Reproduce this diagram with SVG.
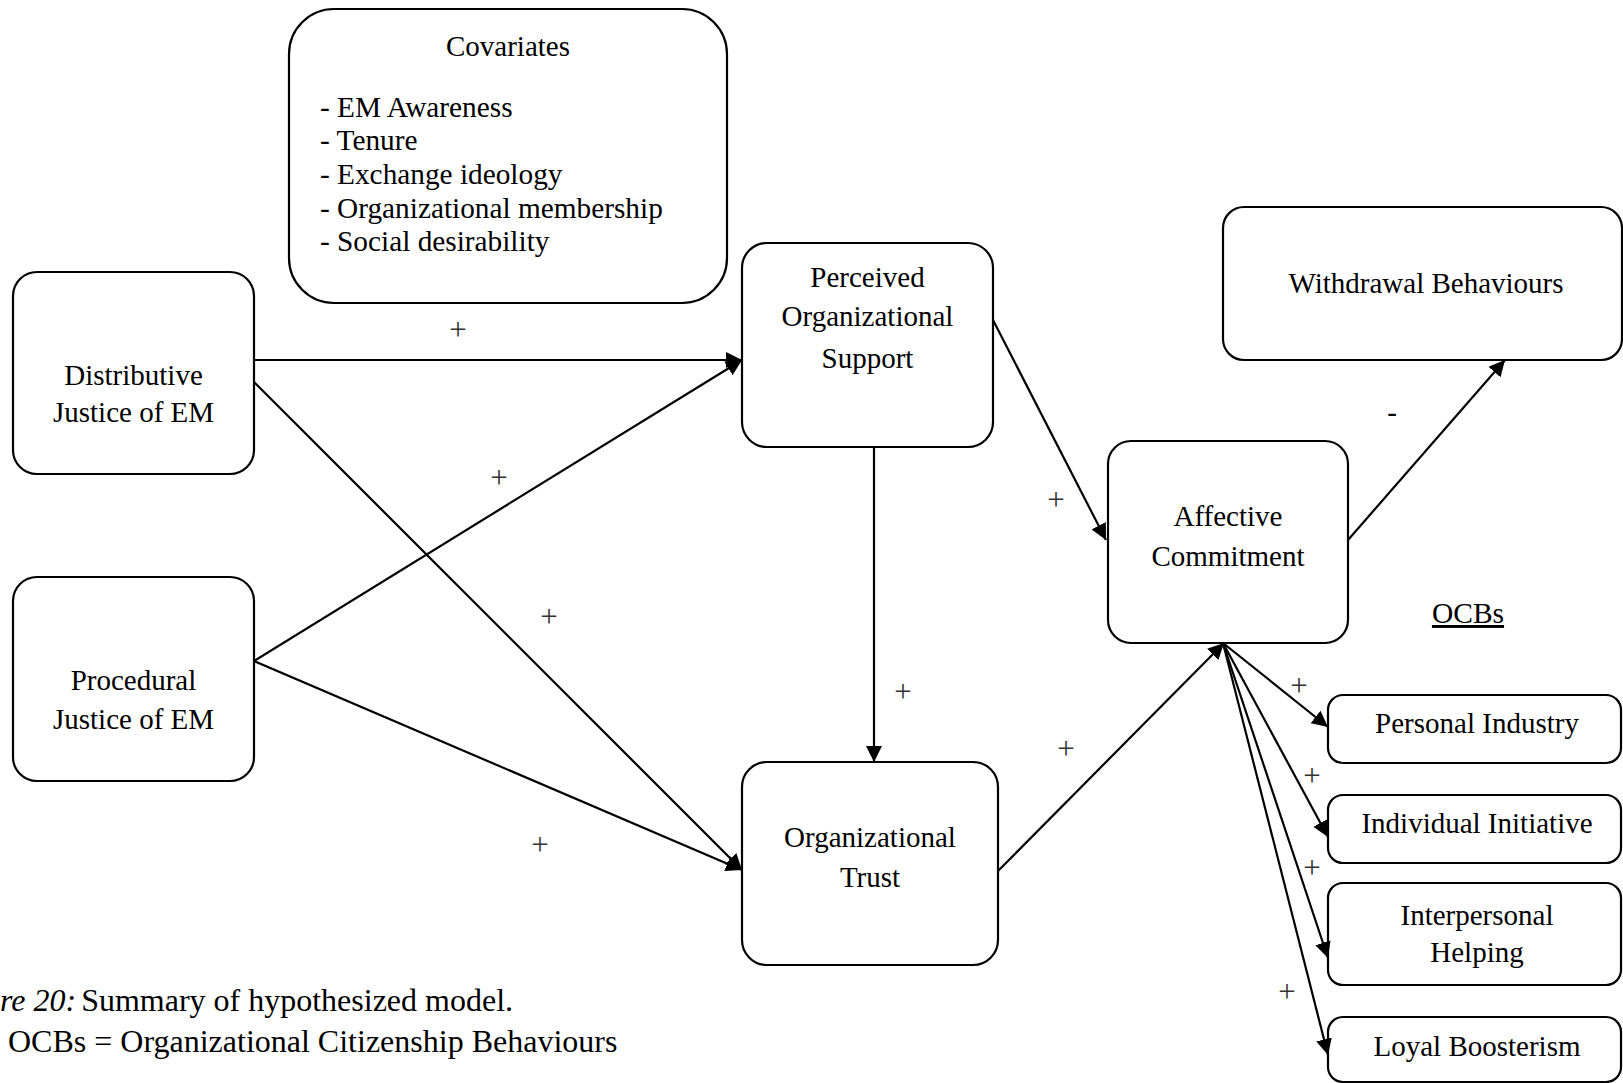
<svg xmlns="http://www.w3.org/2000/svg" width="1623" height="1083" viewBox="0 0 1623 1083">
<style>
.box{fill:#fff;stroke:#000;stroke-width:2.2}
.t{font-family:"Liberation Serif","Times New Roman",serif;font-size:29px;fill:#000}
.c{text-anchor:middle}
.pl{font-family:"Liberation Serif","Times New Roman",serif;font-size:31px;fill:#333;text-anchor:middle}
.edge{stroke:#000;stroke-width:2.2;fill:none;marker-end:url(#ah)}
</style>
<defs>
<marker id="ah" markerUnits="userSpaceOnUse" markerWidth="17" markerHeight="16" refX="16" refY="8" orient="auto">
<path d="M0,0 L16,8 L0,16 z" fill="#000"/>
</marker>
</defs>
<rect width="1623" height="1083" fill="#fff"/>

<g id="covariates">
<rect class="box" x="289" y="9" width="438" height="294" rx="45"/>
<text class="t c" x="508" y="56">Covariates</text>
<text class="t" x="320" y="117" style="font-size:29.3px">- EM Awareness</text>
<text class="t" x="320" y="150" style="font-size:29.3px">- Tenure</text>
<text class="t" x="320" y="184" style="font-size:29.3px">- Exchange ideology</text>
<text class="t" x="320" y="218" style="font-size:29.3px">- Organizational membership</text>
<text class="t" x="320" y="251" style="font-size:29.3px">- Social desirability</text>
</g>

<g id="distributive">
<rect class="box" x="13" y="272" width="241" height="202" rx="24"/>
<text class="t c" x="133.5" y="385">Distributive</text>
<text class="t c" x="133.5" y="422">Justice of EM</text>
</g>

<g id="procedural">
<rect class="box" x="13" y="577" width="241" height="204" rx="24"/>
<text class="t c" x="133.5" y="690">Procedural</text>
<text class="t c" x="133.5" y="729">Justice of EM</text>
</g>

<g id="pos">
<rect class="box" x="742" y="243" width="251" height="204" rx="25"/>
<text class="t c" x="867.5" y="287">Perceived</text>
<text class="t c" x="867.5" y="326">Organizational</text>
<text class="t c" x="867.5" y="368">Support</text>
</g>

<g id="trust">
<rect class="box" x="742" y="762" width="256" height="203" rx="25"/>
<text class="t c" x="870" y="847">Organizational</text>
<text class="t c" x="870" y="887">Trust</text>
</g>

<g id="affective">
<rect class="box" x="1108" y="441" width="240" height="202" rx="23"/>
<text class="t c" x="1228" y="526">Affective</text>
<text class="t c" x="1228" y="566">Commitment</text>
</g>

<g id="withdrawal">
<rect class="box" x="1223" y="207" width="399" height="153" rx="21"/>
<text class="t c" x="1426" y="293">Withdrawal Behaviours</text>
</g>

<g id="ocbs-label">
<text class="t c" x="1468" y="623" text-decoration="underline" style="font-size:29.5px">OCBs</text>
</g>

<g id="personal-industry">
<rect class="box" x="1328" y="695" width="293" height="68" rx="15"/>
<text class="t c" x="1477" y="733">Personal Industry</text>
</g>

<g id="individual-initiative">
<rect class="box" x="1328" y="795" width="293" height="68" rx="15"/>
<text class="t c" x="1477" y="833">Individual Initiative</text>
</g>

<g id="interpersonal-helping">
<rect class="box" x="1328" y="883" width="293" height="102" rx="15"/>
<text class="t c" x="1477" y="925">Interpersonal</text>
<text class="t c" x="1477" y="962">Helping</text>
</g>

<g id="loyal-boosterism">
<rect class="box" x="1328" y="1017" width="293" height="65" rx="15"/>
<text class="t c" x="1477" y="1056">Loyal Boosterism</text>
</g>

<g id="connectors">
<line class="edge" x1="254" y1="360" x2="742" y2="360"/>
<line class="edge" x1="254" y1="382" x2="742" y2="870"/>
<line class="edge" x1="254" y1="661" x2="742" y2="360"/>
<line class="edge" x1="254" y1="661" x2="742" y2="870"/>
<line class="edge" x1="874" y1="447" x2="874" y2="762"/>
<line class="edge" x1="993" y1="320" x2="1106" y2="540"/>
<line class="edge" x1="998" y1="871" x2="1224" y2="643"/>
<line class="edge" x1="1348" y1="540" x2="1505" y2="360"/>
<line class="edge" x1="1223" y1="643" x2="1328" y2="727"/>
<line class="edge" x1="1223" y1="643" x2="1328" y2="837"/>
<line class="edge" x1="1223" y1="643" x2="1328" y2="958"/>
<line class="edge" x1="1223" y1="643" x2="1328" y2="1055"/>
</g>

<g id="labels">
<text class="pl" x="458" y="340">+</text>
<text class="pl" x="499" y="488">+</text>
<text class="pl" x="549" y="627">+</text>
<text class="pl" x="540" y="855">+</text>
<text class="pl" x="903" y="702">+</text>
<text class="pl" x="1056" y="510">+</text>
<text class="pl" x="1066" y="759">+</text>
<text class="pl" x="1299" y="696">+</text>
<text class="pl" x="1312" y="786">+</text>
<text class="pl" x="1312" y="878">+</text>
<text class="pl" x="1287" y="1002">+</text>
<text class="t c" x="1392" y="422">-</text>
</g>

<g id="caption">
<text class="t" x="0" y="1011" style="font-size:32px"><tspan font-style="italic">re 20:</tspan><tspan dx="-3"> Summary of hypothesized model.</tspan></text>
<text class="t" x="8" y="1052" style="font-size:32px">OCBs = Organizational Citizenship Behaviours</text>
</g>
</svg>
